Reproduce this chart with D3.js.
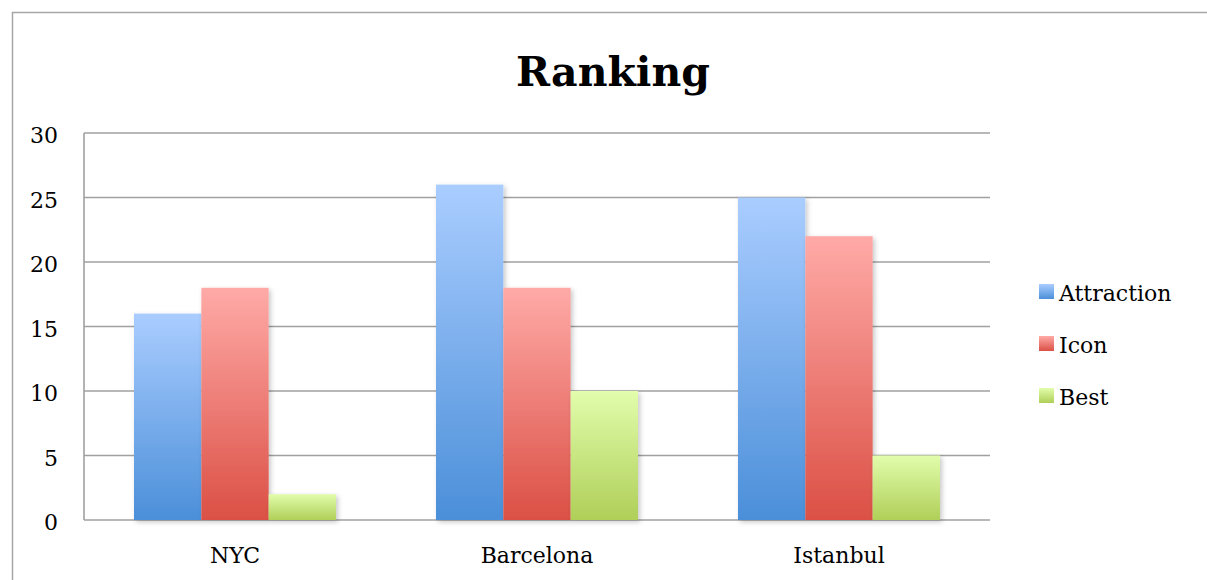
<!DOCTYPE html>
<html>
<head>
<meta charset="utf-8">
<script src="https://cdn.jsdelivr.net/npm/d3@7"></script>
<style>
  html, body { margin: 0; padding: 0; background: #fff; }
  svg { display: block; }
  text { font-family: "DejaVu Serif", "Liberation Serif", serif; fill: #000; }
</style>
</head>
<body>
<svg id="chart" width="1207" height="580"></svg>
<script>
const categories = ["NYC", "Barcelona", "Istanbul"];
const seriesNames = ["Attraction", "Icon", "Best"];
const attraction = [16, 26, 25];
const icon = [18, 18, 22];
const best = [2, 10, 5];
const yTicks = [0, 5, 10, 15, 20, 25, 30];
const title = "Ranking";

const seriesValues = [attraction, icon, best];
const gradStops = [
  ["#aacdff", "#4b8fd9"],
  ["#ffaaa7", "#db5045"],
  ["#e2fdac", "#afcf58"]
];

const svg = d3.select("#chart");
const W = 1207, H = 580;
const plot = { left: 84, right: 990, top: 133, bottom: 520 };

const defs = svg.append("defs");
gradStops.forEach((s, i) => {
  const g = defs.append("linearGradient").attr("id", "grad" + i)
    .attr("x1", 0).attr("y1", 0).attr("x2", 0).attr("y2", 1);
  g.append("stop").attr("offset", "0%").attr("stop-color", s[0]);
  g.append("stop").attr("offset", "100%").attr("stop-color", s[1]);
});
const f = defs.append("filter").attr("id", "shadow")
  .attr("x", "-20%").attr("y", "-20%").attr("width", "140%").attr("height", "140%");
f.append("feDropShadow").attr("dx", 2).attr("dy", 2).attr("stdDeviation", 2.5)
  .attr("flood-color", "#000").attr("flood-opacity", 0.22);

// outer border
svg.append("rect").attr("x", 12.5).attr("y", 12.5)
  .attr("width", W).attr("height", H)
  .attr("fill", "none").attr("stroke", "#a6a6a6").attr("stroke-width", 1.5);

// title
svg.append("text").attr("x", 613).attr("y", 86)
  .attr("text-anchor", "middle")
  .style("font-size", "41px").style("font-weight", "bold")
  .text(title);

const y = d3.scaleLinear().domain([0, 30]).range([plot.bottom, plot.top]);
const x0 = d3.scaleBand().domain(categories).range([plot.left, plot.right]).padding(0);
const groupPad = 50;
const x1 = d3.scaleBand().domain(seriesNames)
  .range([groupPad, x0.bandwidth() - groupPad]).padding(0);

// gridlines
svg.append("g").selectAll("line").data(yTicks).join("line")
  .attr("x1", plot.left).attr("x2", plot.right)
  .attr("y1", d => y(d)).attr("y2", d => y(d))
  .attr("stroke", "#a0a0a0").attr("stroke-width", 1.6);

// left axis line
svg.append("line").attr("x1", plot.left).attr("x2", plot.left)
  .attr("y1", plot.top).attr("y2", plot.bottom)
  .attr("stroke", "#a0a0a0").attr("stroke-width", 1.6);

// y axis labels
const yAxis = d3.axisLeft(y).tickValues(yTicks).tickSize(0).tickPadding(26);
const ya = svg.append("g").attr("transform", `translate(${plot.left},0)`).call(yAxis);
ya.select(".domain").remove();
ya.selectAll("text").style("font-size", "22px")
  .style("font-family", '"DejaVu Serif", serif').attr("fill", "#000").attr("dy", "0.45em");

// bars
const groups = svg.append("g").selectAll("g").data(categories).join("g")
  .attr("transform", d => `translate(${x0(d)},0)`);
groups.selectAll("rect")
  .data((c, ci) => seriesNames.map((s, si) => ({ s, si, v: seriesValues[si][ci] })))
  .join("rect")
  .attr("x", d => x1(d.s))
  .attr("width", x1.bandwidth())
  .attr("y", d => y(d.v))
  .attr("height", d => y(0) - y(d.v))
  .attr("fill", d => `url(#grad${d.si})`)
  .attr("filter", "url(#shadow)");

// x axis labels
const xAxis = d3.axisBottom(x0).tickSize(0).tickPadding(27);
const xa = svg.append("g").attr("transform", `translate(0,${plot.bottom})`).call(xAxis);
xa.select(".domain").remove();
xa.selectAll("text").style("font-size", "22px")
  .style("font-family", '"DejaVu Serif", serif').attr("fill", "#000");

// legend
const legend = svg.append("g").attr("transform", "translate(1039,284)");
const li = legend.selectAll("g").data(seriesNames).join("g")
  .attr("transform", (d, i) => `translate(0,${i * 52})`);
li.append("rect").attr("width", 15).attr("height", 15)
  .attr("fill", (d, i) => `url(#grad${i})`);
li.append("text").attr("x", 20).attr("y", 17)
  .style("font-size", "22px").text(d => d);
</script>
</body>
</html>
